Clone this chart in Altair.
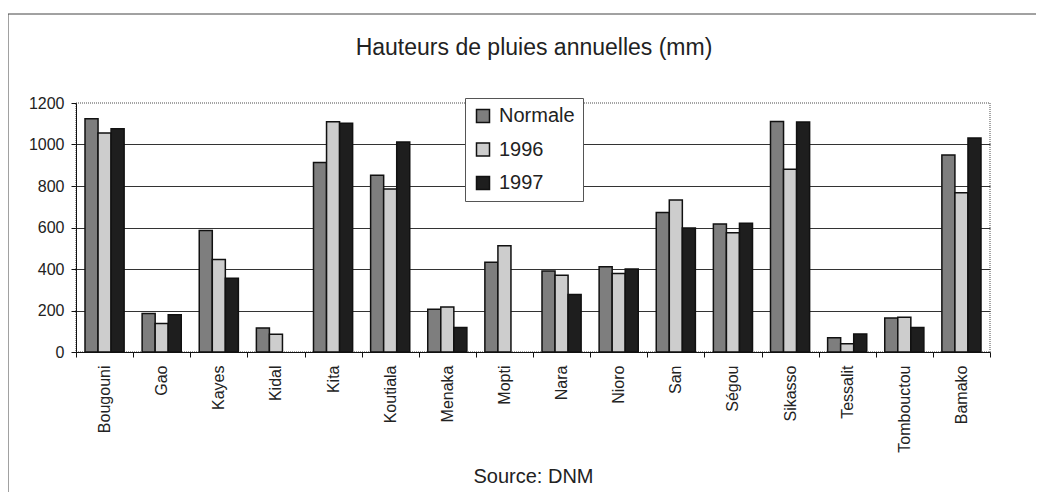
import altair as alt
import pandas as pd

stations = ["Bougouni", "Gao", "Kayes", "Kidal", "Kita", "Koutiala", "Menaka", "Mopti",
            "Nara", "Nioro", "San", "Ségou", "Sikasso", "Tessalit", "Tombouctou", "Bamako"]
series = ["Normale", "1996", "1997"]
normale = [1124, 185, 585, 116, 913, 852, 206, 433, 390, 411, 672, 617, 1111, 69, 164, 949]
y1996 = [1055, 137, 446, 85, 1110, 786, 217, 512, 370, 378, 733, 575, 881, 40, 168, 767]
y1997 = [1076, 180, 356, None, 1102, 1012, 118, None, 277, 400, 598, 620, 1108, 87, 118, 1031]
colors = ["#7e7e7e", "#cdcdcd", "#1e1e1e"]
y_ticks = [0, 200, 400, 600, 800, 1000, 1200]
title_text = "Hauteurs de pluies annuelles (mm)"

rows = []
for i, st in enumerate(stations):
    for name, vals in zip(series, [normale, y1996, y1997]):
        v = vals[i]
        if v is not None:
            rows.append({"Station": st, "Série": name, "Pluie": v})
df = pd.DataFrame(rows)

FONT = "Liberation Sans"

bars = alt.Chart(df).mark_bar(stroke="#111111", strokeWidth=1.5).encode(
    x=alt.X("Station:N", sort=stations,
            scale=alt.Scale(paddingInner=0, paddingOuter=0),
            axis=alt.Axis(title="Source: DNM", titleFont=FONT, titleFontSize=20,
                          titleFontWeight="normal", titleColor="#222222",
                          titleY=130, titleBaseline="alphabetic",
                          labelAngle=-90, labelFont=FONT, labelFontSize=16,
                          labelColor="#222222", labelPadding=8,
                          tickBand="extent", tickSize=5, tickColor="#111111",
                          domainColor="#111111", grid=False)),
    xOffset=alt.XOffset("Série:N", sort=series,
                        scale=alt.Scale(paddingInner=0, paddingOuter=0.69)),
    y=alt.Y("Pluie:Q", scale=alt.Scale(domain=[0, 1200], nice=False),
            axis=alt.Axis(title=None, values=y_ticks, format="d", labelFont=FONT,
                          labelFontSize=16, labelColor="#222222", labelPadding=7,
                          tickSize=5, tickColor="#111111", domainColor="#111111",
                          grid=True, gridColor="#333333", gridWidth=1,
                          gridOpacity={"condition": {"test": "datum.value === 1200 || datum.value === 0", "value": 0}, "value": 1})),
    color=alt.Color("Série:N", sort=series,
                    scale=alt.Scale(domain=series, range=colors),
                    legend=alt.Legend(title=None, orient="none", legendX=389, legendY=-5,
                                      fillColor="white", strokeColor="#555555",
                                      padding=8, labelFont=FONT, labelFontSize=20,
                                      labelColor="#222222", symbolType="square",
                                      symbolSize=169, symbolStrokeColor="#111111",
                                      symbolStrokeWidth=1.5, rowPadding=13.5,
                                      labelOffset=6)),
)

single = alt.Chart(pd.DataFrame({"label": [title_text]}))
frame = single.mark_rule(color="#444444", strokeWidth=1)
left_line = frame.encode(x=alt.value(-68), y=alt.value(-89), y2=alt.value(397))
top_line = frame.encode(x=alt.value(-68), x2=alt.value(960), y=alt.value(-89))
title = single.mark_text(font=FONT, fontSize=23, color="#222222", align="center",
                         baseline="alphabetic").encode(
    text="label:N", x=alt.value(458), y=alt.value(-48))

chart = alt.layer(left_line, top_line, title, bars).properties(
    width=914, height=249,
    autosize=alt.AutoSizeParams(type="none"),
    padding={"left": 68, "top": 95, "right": 46, "bottom": 140},
).configure_view(stroke="#888888", strokeDash=[1, 1], strokeWidth=1.5)

chart.save("out.html", embed_options={"renderer": "svg", "actions": False})
